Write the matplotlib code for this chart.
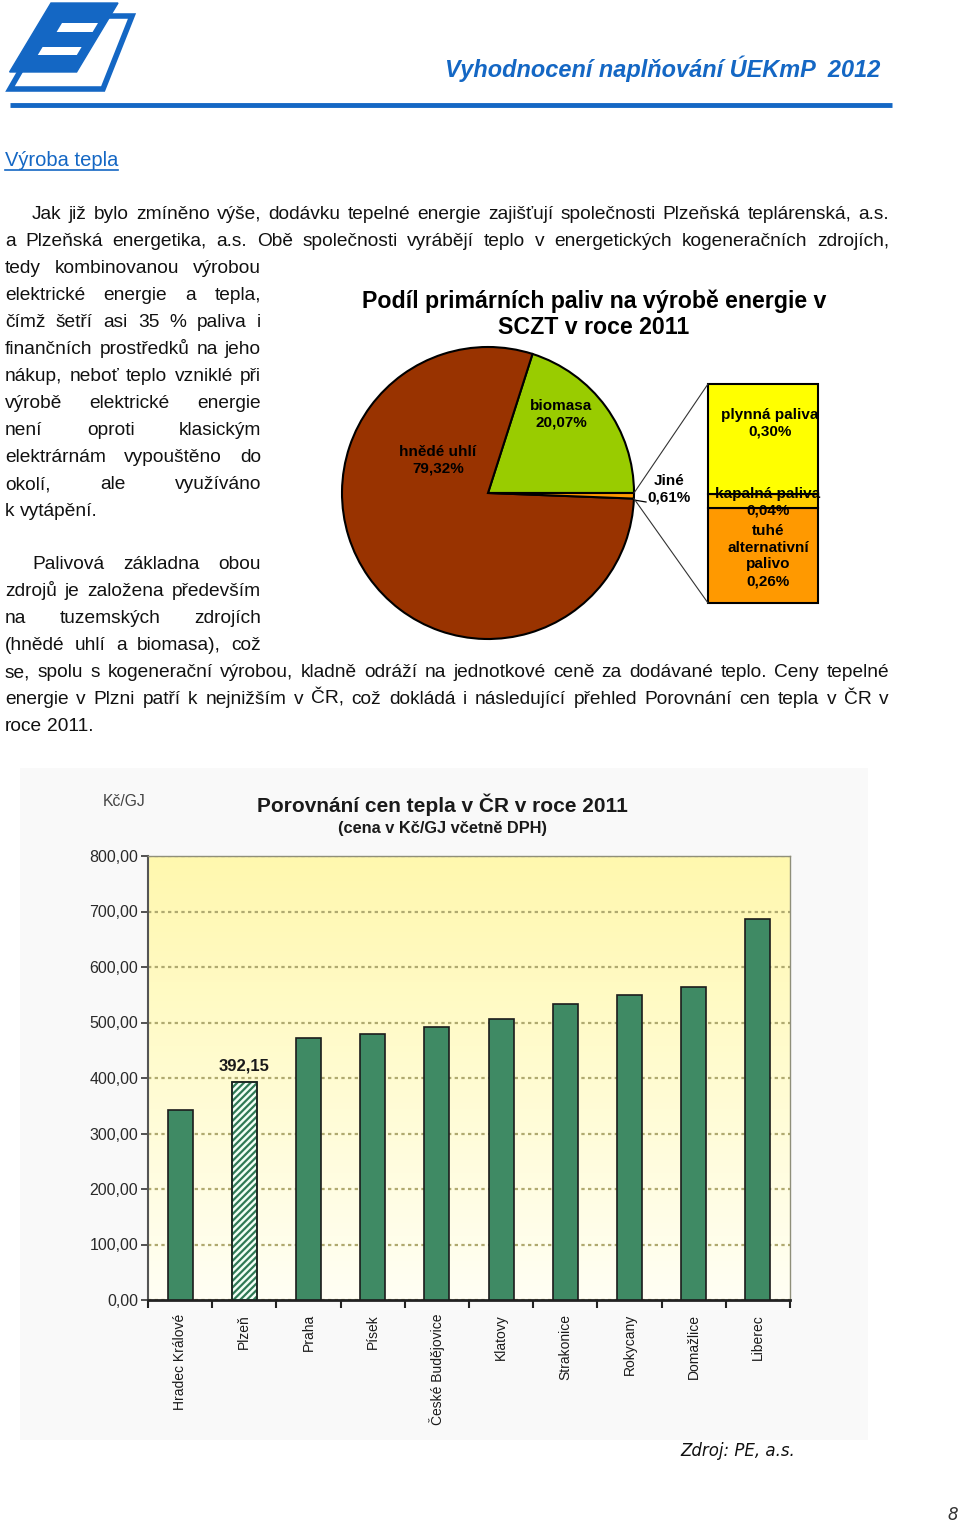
import numpy as np
import matplotlib
matplotlib.use("Agg")
import matplotlib.pyplot as plt
from matplotlib.patches import Polygon, Rectangle
from matplotlib.colors import LinearSegmentedColormap

W, H = 960, 1522
BODY = ["Liberation Sans", "DejaVu Sans"]
BLUE = "#1467C4"

# pie: share of primary fuels 2011 (%)
pie_labels = ["biomasa", "hnědé uhlí", "Jiné"]
pie_values = [20.07, 79.32, 0.61]
pie_colors = ["#99CC00", "#993300", "#FF9900"]

# breakdown of "Jiné" (bottom -> top)
jine_labels = ["tuhé\nalternativní\npalivo", "kapalná paliva", "plynná paliva"]
jine_values = [0.26, 0.04, 0.30]
jine_colors = ["#FF9900", "#FFCC00", "#FFFF00"]

# heat prices 2011 (Kč/GJ incl. VAT)
cities = ["Hradec Králové", "Plzeň", "Praha", "Písek", "České Budějovice",
          "Klatovy", "Strakonice", "Rokycany", "Domažlice", "Liberec"]
prices = [343.0, 392.15, 472.0, 479.0, 491.0, 506.0, 533.0, 550.0, 564.0, 687.0]
y_ticks = [0, 100, 200, 300, 400, 500, 600, 700, 800]


def fx(px):
    return px / W


def fy(py):
    return 1 - py / H


def cz(v):
    return f"{v:.2f}".replace(".", ",")


def page_axes():
    a = fig.add_axes([0, 0, 1, 1])
    a.set_xlim(0, W)
    a.set_ylim(H, 0)
    a.axis("off")
    a.patch.set_visible(False)
    return a


fig = plt.figure(figsize=(W / 100, H / 100), dpi=100)
page = page_axes()
rend = fig.canvas.get_renderer()

# logo
def slanted(u0, u1, y0, y1, s=0.6, top=3):
    return [(u0 - s * (y0 - top), y0), (u1 - s * (y0 - top), y0),
            (u1 - s * (y1 - top), y1), (u0 - s * (y1 - top), y1)]

frame = [(52, 16), (132, 16), (103, 89), (10, 89)]
page.add_patch(Polygon(frame, closed=True, facecolor="white", edgecolor=BLUE, lw=4, zorder=2))
page.add_patch(Polygon(slanted(51, 118, 3, 72), closed=True, facecolor=BLUE, edgecolor=BLUE, lw=1, zorder=3))
page.add_patch(Polygon(slanted(74, 110, 23, 32), closed=True, facecolor="white", lw=0, zorder=4))
page.add_patch(Polygon(slanted(69, 108, 47, 55), closed=True, facecolor="white", lw=0, zorder=4))

page.text(880, 69, "Vyhodnocení naplňování ÚEKmP  2012", ha="right", va="center",
          fontsize=16.9, fontweight="bold", fontstyle="italic", color=BLUE, family=BODY)
page.plot([10, 892], [105, 105], color=BLUE, lw=3.5, solid_capstyle="butt")

t = page.text(5, 160, "Výroba tepla", ha="left", va="center", fontsize=14.5, color=BLUE, family=BODY)
bb = t.get_window_extent(rend)
page.plot([5, 5 + bb.width], [170, 170], color=BLUE, lw=1.2)


def put_line(text, yc, x0, x1, size=13.8, justify=True):
    words = text.split()
    arts = [page.text(0, yc + 5, w, fontsize=size, ha="left", va="baseline",
                      family=BODY, color="#111111") for w in words]
    widths = [a.get_window_extent(rend).width for a in arts]
    if justify and len(words) > 1:
        gap = (x1 - x0 - sum(widths)) / (len(words) - 1)
    else:
        gap = size * 100 / 72 * 0.28
    x = x0
    for a, w in zip(arts, widths):
        a.set_x(x)
        x += w + gap


para = [
    ("Jak již bylo zmíněno výše, dodávku tepelné energie zajišťují společnosti Plzeňská teplárenská, a.s.", 214, 32, 889, True),
    ("a Plzeňská energetika, a.s. Obě společnosti vyrábějí teplo v energetických kogeneračních zdrojích,", 241, 5, 889, True),
    ("tedy kombinovanou výrobou", 268, 5, 261, True),
    ("elektrické energie a tepla,", 295, 5, 261, True),
    ("čímž šetří asi 35 % paliva i", 322, 5, 261, True),
    ("finančních prostředků na jeho", 349, 5, 261, True),
    ("nákup, neboť teplo vzniklé při", 376, 5, 261, True),
    ("výrobě elektrické energie", 403, 5, 261, True),
    ("není oproti klasickým", 430, 5, 261, True),
    ("elektrárnám vypouštěno do", 457, 5, 261, True),
    ("okolí, ale využíváno", 484, 5, 261, True),
    ("k vytápění.", 511, 5, 261, False),
    ("Palivová základna obou", 564, 32, 261, True),
    ("zdrojů je založena především", 591, 5, 261, True),
    ("na tuzemských zdrojích", 618, 5, 261, True),
    ("(hnědé uhlí a biomasa), což", 645, 5, 261, True),
    ("se, spolu s kogenerační výrobou, kladně odráží na jednotkové ceně za dodávané teplo. Ceny tepelné", 672, 5, 889, True),
    ("energie v Plzni patří k nejnižším v ČR, což dokládá i následující přehled Porovnání cen tepla v ČR v", 699, 5, 889, True),
    ("roce 2011.", 726, 5, 889, False),
]
for txt, yc, x0, x1, j in para:
    put_line(txt, yc, x0, x1, justify=j)

# pie chart
cx, cy, R = 488, 493, 146
page.text(594, 301, "Podíl primárních paliv na výrobě energie v", ha="center", va="center",
          fontsize=16.7, fontweight="bold", family=BODY)
page.text(594, 328, "SCZT v roce 2011", ha="center", va="center",
          fontsize=16.7, fontweight="bold", family=BODY)
pad = 1.03
pax = fig.add_axes([fx(cx - R * pad), fy(cy + R * pad), 2 * R * pad / W, 2 * R * pad / H])
pax.pie(pie_values, colors=pie_colors, startangle=0, counterclock=True,
        wedgeprops=dict(edgecolor="black", linewidth=1.5))
pax.set_xlim(-pad, pad)
pax.set_ylim(-pad, pad)

# bar of pie
bx0, by0, bw, bh = 708, 384, 110, 219
bax = fig.add_axes([fx(bx0), fy(by0 + bh), bw / W, bh / H])
bottoms = np.concatenate([[0], np.cumsum(jine_values)[:-1]])
bars = bax.bar(0, jine_values, bottom=bottoms, width=1, color=jine_colors,
               edgecolor="black", linewidth=1.5)
for b in bars:
    b.set_clip_on(False)
bax.set_xlim(-0.5, 0.5)
bax.set_ylim(0, sum(jine_values))
bax.axis("off")

# price comparison chart
page.add_patch(Rectangle((20, 768), 848, 672, facecolor="#f9f9f9", edgecolor="none", zorder=0))
page.text(124, 801, "Kč/GJ", ha="center", va="center", fontsize=11.3, color="#444444", family=BODY)
page.text(442, 805, "Porovnání cen tepla v ČR v roce 2011", ha="center", va="center",
          fontsize=15, fontweight="bold", color="#1a1a1a", family=BODY)
page.text(442, 828, "(cena v Kč/GJ včetně DPH)", ha="center", va="center",
          fontsize=11.8, fontweight="bold", color="#1a1a1a", family=BODY)

cax = fig.add_axes([fx(148), fy(1300), (790 - 148) / W, (1300 - 856) / H])
xs = np.arange(len(cities))
grad = LinearSegmentedColormap.from_list("pl", ["#FFFFF4", "#FFF8AE"])
cax.imshow(np.linspace(0, 1, 256).reshape(-1, 1), extent=(-0.5, len(cities) - 0.5, 0, 800),
           aspect="auto", origin="lower", cmap=grad, zorder=0)
plt.rcParams["hatch.linewidth"] = 1.6
cbars = cax.bar(xs, prices, width=0.39, color="#3F8A64", edgecolor="#1c1c1c", linewidth=1.2, zorder=3)
cbars[1].set_facecolor("#F2FFF6")
cbars[1].set_edgecolor("#2F7A55")
cbars[1].set_hatch("/////")
cax.bar(xs[1], prices[1], width=0.39, fill=False, edgecolor="#1c1c1c", linewidth=1.2, zorder=4)
cax.annotate(cz(prices[1]), (xs[1], prices[1]), xytext=(0, 12), textcoords="offset points",
             ha="center", va="center", fontsize=12, fontweight="bold", color="#1a1a1a", family=BODY)

cax.set_xlim(-0.5, len(cities) - 0.5)
cax.set_ylim(0, 800)
cax.set_yticks(y_ticks)
cax.set_yticklabels([cz(v) for v in y_ticks], fontsize=11.5, color="#2a2a2a", family=BODY)
cax.yaxis.grid(True, linestyle=(0, (1.5, 1.5)), color="#B0AA70", lw=1.6)
cax.set_axisbelow(True)
cax.set_xticks(xs)
cax.set_xticklabels(cities, rotation=90, fontsize=10, color="#1a1a1a", family=BODY)
cax.set_xticks(np.arange(-0.5, len(cities), 1), minor=True)
cax.tick_params(axis="x", which="major", length=0, pad=10)
cax.tick_params(axis="x", which="minor", length=6, width=1.5, color="#222222", direction="out")
cax.tick_params(axis="y", length=5, width=1.3, color="#444444", pad=2)
for side in ("top", "right"):
    cax.spines[side].set_color("#8f8f7a")
    cax.spines[side].set_linewidth(1)
cax.spines["left"].set_color("#555555")
cax.spines["left"].set_linewidth(1.5)
cax.spines["bottom"].set_color("#222222")
cax.spines["bottom"].set_linewidth(2)

page.text(738, 1451, "Zdroj: PE, a.s.", ha="center", va="center", fontsize=12,
          fontstyle="italic", family=["DejaVu Sans"], color="#111111")
page.text(953, 1515, "8", ha="center", va="center", fontsize=12,
          fontstyle="italic", family=["DejaVu Sans"], color="#333333")

# overlay: pie labels and connectors on top of the chart axes
over = page_axes()
lab = dict(ha="center", va="center", fontsize=11, fontweight="bold", family=BODY, linespacing=1.25)
over.text(438, 460, f"{pie_labels[1]}\n{cz(pie_values[1])}%", **lab)
over.text(561, 414, f"{pie_labels[0]}\n{cz(pie_values[0])}%", **lab)
over.text(669, 489, f"{pie_labels[2]}\n{cz(pie_values[2])}%", **lab)
over.plot([634, 646], [500, 502], color="black", lw=0.9)

a0 = np.radians(360 * (1 - pie_values[2] / sum(pie_values)))
a1 = np.radians(360)
over.plot([cx + R * np.cos(a1), bx0], [cy - R * np.sin(a1), by0], color="#333333", lw=0.8)
over.plot([cx + R * np.cos(a0), bx0], [cy - R * np.sin(a0), by0 + bh], color="#333333", lw=0.8)

over.text(770, 423, f"{jine_labels[2]}\n{cz(jine_values[2])}%", **lab)
over.text(768, 502, f"{jine_labels[1]}\n{cz(jine_values[1])}%", **lab)
over.text(768, 556, f"{jine_labels[0]}\n{cz(jine_values[0])}%", **lab)

fig.savefig("out.png", dpi=100)
